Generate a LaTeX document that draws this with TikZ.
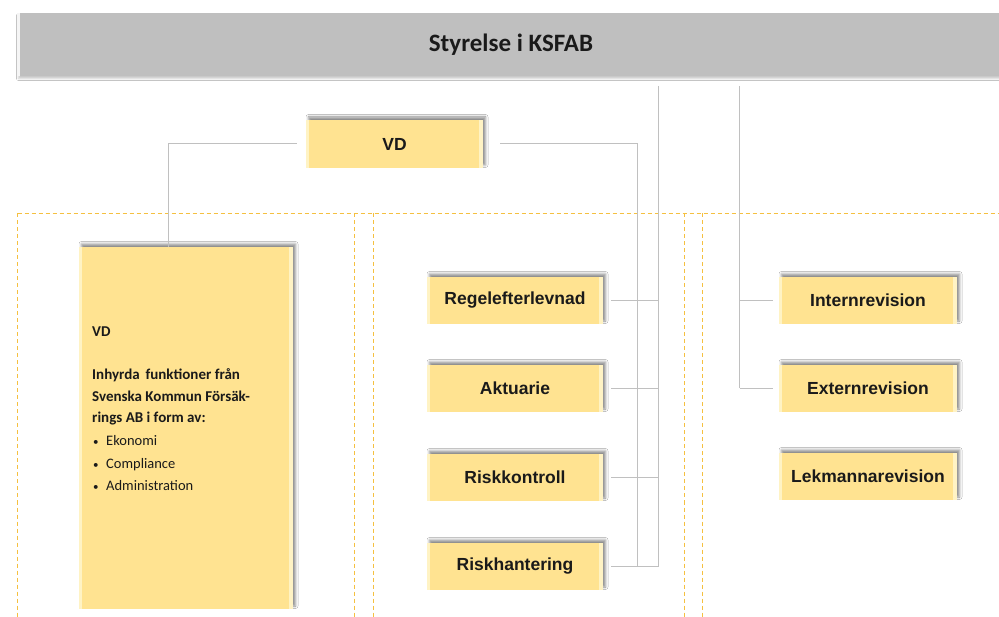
\documentclass[tikz,border=0pt]{standalone}
\usepackage{fontspec}
\setmainfont{Liberation Sans}
\newfontfamily\calfont{Carlito}
\usetikzlibrary{shadows.blur}
\definecolor{boxyellow}{HTML}{FFE391}
\definecolor{lightstrip}{HTML}{FFF3C4}
\definecolor{bargray}{HTML}{BFBFBF}
\definecolor{linegray}{HTML}{C0C0C0}
\definecolor{dashorange}{HTML}{F5C040}
\definecolor{textdark}{HTML}{1A1A1A}
\tikzset{
  ybox/.style={fill=boxyellow, draw=none, minimum width=176pt, minimum height=47pt,
    inner sep=0pt, text=textdark, font=\bfseries\fontsize{17.5}{19}\selectfont,
    blur shadow={shadow xshift=2.5pt, shadow yshift=3pt, shadow blur radius=2.5pt, shadow opacity=45},
    path picture={
      \fill[lightstrip] (path picture bounding box.north west) rectangle ([xshift=3pt]path picture bounding box.south west);
      \fill[lightstrip] ([xshift=-4pt]path picture bounding box.north east) rectangle (path picture bounding box.south east);
    }},
  barbox/.style={fill=bargray, draw=none, minimum width=988pt, minimum height=63pt, inner sep=0pt,
    text=textdark, font=\calfont\bfseries\fontsize{25}{28}\selectfont,
    blur shadow={shadow xshift=1.5pt, shadow yshift=-2.5pt, shadow blur radius=2pt, shadow opacity=22},
    path picture={
      \fill[white!85!bargray] (path picture bounding box.north west) rectangle ([xshift=3pt]path picture bounding box.south west);
    }},
  conn/.style={draw=linegray, line width=1pt},
  panel/.style={draw=dashorange, line width=1.2pt, dash pattern=on 4pt off 3pt},
  bigtxt/.style={anchor=base west, inner sep=0pt, text=textdark, font=\calfont\bfseries\fontsize{15}{18}\selectfont},
  bullettxt/.style={anchor=base west, inner sep=0pt, text=textdark, font=\calfont\fontsize{14.5}{18}\selectfont},
}
\begin{document}
\begin{tikzpicture}[x=1pt,y=-1pt]
\useasboundingbox (0,0) rectangle (999,617);
\fill[white] (0,0) rectangle (999,617);

% dashed panels
\draw[panel] (17.5,213.5) -- (1005,213.5);
\draw[panel] (17.5,213.5) -- (17.5,625);
\draw[panel] (354.5,213.5) -- (354.5,625);
\draw[panel] (373.5,213.5) -- (373.5,625);
\draw[panel] (684.5,213.5) -- (684.5,625);
\draw[panel] (702.5,213.5) -- (702.5,625);

% top bar
\node[barbox] (bar) at (511,44.5) {Styrelse i KSFAB};

% boxes
\node[ybox, minimum width=177pt, minimum height=48pt] (vd) at (394.5,144) {VD};
\node[ybox, minimum width=214pt, minimum height=362pt] (big) at (186,428) {};

\node[ybox] (reg) at (515,300.5) {Regelefterlevnad};
\node[ybox] (akt) at (515,388.5) {Aktuarie};
\node[ybox] (rk) at (515,477.5) {Riskkontroll};
\node[ybox] (rh) at (515,566.5) {Riskhantering};

\node[ybox, minimum width=178pt] (intern) at (868,300.5) {Internrevision};
\node[ybox, minimum width=178pt] (extern) at (868,388.5) {Externrevision};
\node[ybox, minimum width=178pt] (lek) at (868,476.5) {Lekmannarevision};

% big box text
\node[bigtxt] (t1) at (92,337) {VD};
\node[bigtxt] (t2) at (92,380) {Inhyrda\,\ funktioner från};
\node[bigtxt] (t3) at (92,402) {Svenska Kommun Försäk-};
\node[bigtxt] (t4) at (92,423) {rings AB i form av:};
\node[bullettxt] (b1) at (93,446) {\fontsize{11}{12}\selectfont•};
\node[bullettxt] (t5) at (106,446) {Ekonomi};
\node[bullettxt] (b2) at (93,468) {\fontsize{11}{12}\selectfont•};
\node[bullettxt] (t6) at (106,468) {Compliance};
\node[bullettxt] (b3) at (93,490) {\fontsize{11}{12}\selectfont•};
\node[bullettxt] (t7) at (106,490) {Administration};

% connector coordinates
\coordinate (vdL) at ([xshift=-9pt]vd.west);
\coordinate (bigtop) at (168.5,247);
\coordinate (vdR) at ([xshift=17pt]vd.east);
\coordinate (vdBus) at (637.5,566.5);
\coordinate (barA) at (658.5,86);
\coordinate (barAend) at (658.5,566.5);
\coordinate (barB) at (739.5,86);
\coordinate (barBend) at (739.5,388.5);

\draw[conn] (vdL) -| (bigtop);
\draw[conn] (vdR) -| (vdBus);
\draw[conn] (barA) -- (barAend);
\draw[conn] (barB) -- (barBend);

\foreach \n in {reg,akt,rk,rh}{
  \draw[conn] ([xshift=8pt]\n.east) -- (\n.east -| barA);
}
\foreach \n in {intern,extern}{
  \draw[conn] (\n.west -| barB) -- ([xshift=-6pt]\n.west);
}
\end{tikzpicture}
\end{document}
